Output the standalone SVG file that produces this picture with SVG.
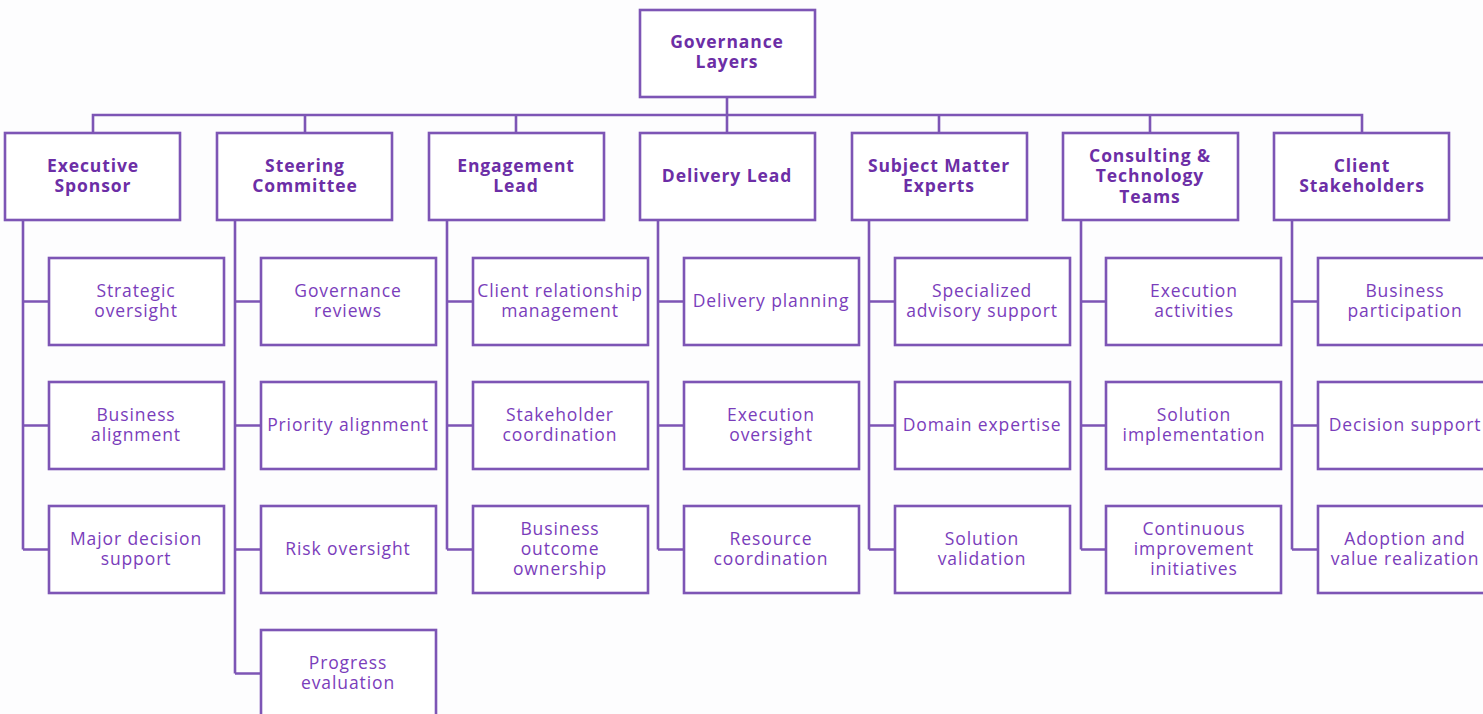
<svg xmlns="http://www.w3.org/2000/svg" width="1483" height="714" viewBox="0 0 1483 714">
<style>
.b{fill:#fff;stroke:#7d55b5;stroke-width:2.6}
.c{fill:none;stroke:#7d55b5;stroke-width:2.6}
.h{font-family:"Open Sans","Liberation Sans",sans-serif;font-weight:700;font-size:17.5px;letter-spacing:0.9px;fill:#6c2ea6;text-anchor:middle}
.t{font-family:"Open Sans","Liberation Sans",sans-serif;font-size:17.5px;letter-spacing:0.9px;fill:#7a3dbb;text-anchor:middle}
</style>
<rect width="1483" height="714" fill="#fdfdfe"/>
<g id="connectors">
<path class="c" d="M727 97V115M93 133V115H1362V133M305 115V133M516 115V133M727 115V133M939 115V133M1150 115V133"/>
<path class="c" d="M23 220V549.5M23 301.5H49M23 425.5H49M23 549.5H49"/>
<path class="c" d="M235 220V673.5M235 301.5H261M235 425.5H261M235 549.5H261M235 673.5H261"/>
<path class="c" d="M447 220V549.5M447 301.5H473M447 425.5H473M447 549.5H473"/>
<path class="c" d="M658 220V549.5M658 301.5H684M658 425.5H684M658 549.5H684"/>
<path class="c" d="M869 220V549.5M869 301.5H895M869 425.5H895M869 549.5H895"/>
<path class="c" d="M1081 220V549.5M1081 301.5H1106M1081 425.5H1106M1081 549.5H1106"/>
<path class="c" d="M1292 220V549.5M1292 301.5H1318M1292 425.5H1318M1292 549.5H1318"/>
</g>
<g id="root"><rect class="b" x="640" y="10" width="175" height="87"/><text class="h" x="727" y="48">Governance</text><text class="h" x="727" y="68">Layers</text></g>

<g id="exec"><rect class="b" x="5" y="133" width="175" height="87"/><text class="h" x="93" y="172">Executive</text><text class="h" x="93" y="192">Sponsor</text></g>
<g id="exec1"><rect class="b" x="49" y="258" width="175" height="87"/><text class="t" x="136" y="297">Strategic</text><text class="t" x="136" y="317">oversight</text></g>
<g id="exec2"><rect class="b" x="49" y="382" width="175" height="87"/><text class="t" x="136" y="421">Business</text><text class="t" x="136" y="441">alignment</text></g>
<g id="exec3"><rect class="b" x="49" y="506" width="175" height="87"/><text class="t" x="136" y="545">Major decision</text><text class="t" x="136" y="565">support</text></g>

<g id="steer"><rect class="b" x="217" y="133" width="175" height="87"/><text class="h" x="305" y="172">Steering</text><text class="h" x="305" y="192">Committee</text></g>
<g id="steer1"><rect class="b" x="261" y="258" width="175" height="87"/><text class="t" x="348" y="297">Governance</text><text class="t" x="348" y="317">reviews</text></g>
<g id="steer2"><rect class="b" x="261" y="382" width="175" height="87"/><text class="t" x="348" y="431">Priority alignment</text></g>
<g id="steer3"><rect class="b" x="261" y="506" width="175" height="87"/><text class="t" x="348" y="555">Risk oversight</text></g>
<g id="steer4"><rect class="b" x="261" y="630" width="175" height="87"/><text class="t" x="348" y="669">Progress</text><text class="t" x="348" y="689">evaluation</text></g>

<g id="eng"><rect class="b" x="429" y="133" width="175" height="87"/><text class="h" x="516" y="172">Engagement</text><text class="h" x="516" y="192">Lead</text></g>
<g id="eng1"><rect class="b" x="473" y="258" width="175" height="87"/><text class="t" x="560" y="297">Client relationship</text><text class="t" x="560" y="317">management</text></g>
<g id="eng2"><rect class="b" x="473" y="382" width="175" height="87"/><text class="t" x="560" y="421">Stakeholder</text><text class="t" x="560" y="441">coordination</text></g>
<g id="eng3"><rect class="b" x="473" y="506" width="175" height="87"/><text class="t" x="560" y="535">Business</text><text class="t" x="560" y="555">outcome</text><text class="t" x="560" y="575">ownership</text></g>

<g id="del"><rect class="b" x="640" y="133" width="175" height="87"/><text class="h" x="727" y="182">Delivery Lead</text></g>
<g id="del1"><rect class="b" x="684" y="258" width="175" height="87"/><text class="t" x="771" y="307">Delivery planning</text></g>
<g id="del2"><rect class="b" x="684" y="382" width="175" height="87"/><text class="t" x="771" y="421">Execution</text><text class="t" x="771" y="441">oversight</text></g>
<g id="del3"><rect class="b" x="684" y="506" width="175" height="87"/><text class="t" x="771" y="545">Resource</text><text class="t" x="771" y="565">coordination</text></g>

<g id="sme"><rect class="b" x="852" y="133" width="175" height="87"/><text class="h" x="939" y="172">Subject Matter</text><text class="h" x="939" y="192">Experts</text></g>
<g id="sme1"><rect class="b" x="895" y="258" width="175" height="87"/><text class="t" x="982" y="297">Specialized</text><text class="t" x="982" y="317">advisory support</text></g>
<g id="sme2"><rect class="b" x="895" y="382" width="175" height="87"/><text class="t" x="982" y="431">Domain expertise</text></g>
<g id="sme3"><rect class="b" x="895" y="506" width="175" height="87"/><text class="t" x="982" y="545">Solution</text><text class="t" x="982" y="565">validation</text></g>

<g id="cons"><rect class="b" x="1063" y="133" width="175" height="87"/><text class="h" x="1150" y="162">Consulting &amp;</text><text class="h" x="1150" y="182">Technology</text><text class="h" x="1150" y="203">Teams</text></g>
<g id="cons1"><rect class="b" x="1106" y="258" width="175" height="87"/><text class="t" x="1194" y="297">Execution</text><text class="t" x="1194" y="317">activities</text></g>
<g id="cons2"><rect class="b" x="1106" y="382" width="175" height="87"/><text class="t" x="1194" y="421">Solution</text><text class="t" x="1194" y="441">implementation</text></g>
<g id="cons3"><rect class="b" x="1106" y="506" width="175" height="87"/><text class="t" x="1194" y="535">Continuous</text><text class="t" x="1194" y="555">improvement</text><text class="t" x="1194" y="575">initiatives</text></g>

<g id="client"><rect class="b" x="1274" y="133" width="175" height="87"/><text class="h" x="1362" y="172">Client</text><text class="h" x="1362" y="192">Stakeholders</text></g>
<g id="client1"><rect class="b" x="1318" y="258" width="175" height="87"/><text class="t" x="1405" y="297">Business</text><text class="t" x="1405" y="317">participation</text></g>
<g id="client2"><rect class="b" x="1318" y="382" width="175" height="87"/><text class="t" x="1405" y="431">Decision support</text></g>
<g id="client3"><rect class="b" x="1318" y="506" width="175" height="87"/><text class="t" x="1405" y="545">Adoption and</text><text class="t" x="1405" y="565">value realization</text></g>
</svg>
